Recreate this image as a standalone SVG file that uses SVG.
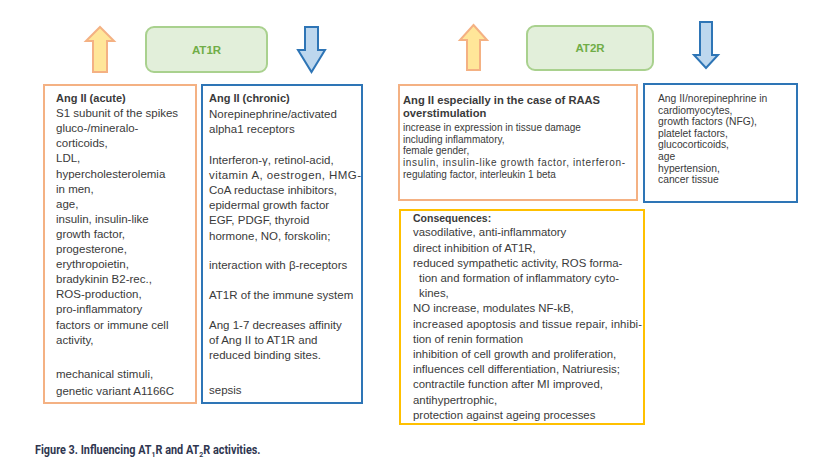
<svg xmlns="http://www.w3.org/2000/svg" width="839" height="470" viewBox="0 0 839 470">
<style>
.t{font-family:"Liberation Sans",Arial,sans-serif;font-size:11.5px;fill:#3a3a3a}
.b{font-weight:bold}
.s{font-size:10px}
.s2{font-size:10.3px}
.y{font-size:11.4px}
.box{fill:#fff;stroke-width:2}
.or{stroke:#F4B183}
.bl{stroke:#2E75B6}
.ye{stroke:#FFC000}
.rec{fill:#E2EFDA;stroke:#A9D18E;stroke-width:2}
.rl{font-family:"Liberation Sans",Arial,sans-serif;font-size:11.5px;font-weight:bold;fill:#70AD47;text-anchor:middle}
.up{fill:#FFE699;stroke:#F4B183;stroke-width:2;stroke-linejoin:miter}
.dn{fill:#BDD7EE;stroke:#2E75B6;stroke-width:2;stroke-linejoin:miter}
</style>
<rect width="839" height="470" fill="#fff"/>

<g id="at1r">
<rect class="rec" x="146" y="27" width="121" height="45" rx="8"/>
<text class="rl" x="206.5" y="54">AT1R</text>
</g>
<g id="at2r">
<rect class="rec" x="527" y="26" width="126" height="44" rx="8"/>
<text class="rl" x="590" y="52">AT2R</text>
</g>

<g id="arrows">
<polygon class="up" points="100,27 114,41 107,41 107,72 93,72 93,41 86,41"/>
<polygon class="dn" points="305,27 318,27 318,50 325,50 311.5,72 298,50 305,50"/>
<polygon class="up" points="473.5,25 487,40 480,40 480,70 467,70 467,40 460,40"/>
<polygon class="dn" points="700,22 712,22 712,55 718,55 706,68 694,55 700,55"/>
</g>

<g id="at1r-up">
<rect class="box or" x="44" y="85" width="152" height="318"/>
<text class="t"><tspan class="b" font-size="11" x="56" y="102">Ang II (acute)</tspan>
<tspan x="56" y="117.1">S1 subunit of the spikes</tspan>
<tspan x="56" y="132.2">gluco-/mineralo-</tspan>
<tspan x="56" y="147.3">corticoids,</tspan>
<tspan x="56" y="162.4">LDL,</tspan>
<tspan x="56" y="177.5">hypercholesterolemia</tspan>
<tspan x="56" y="192.6">in men,</tspan>
<tspan x="56" y="207.7">age,</tspan>
<tspan x="56" y="222.8">insulin, insulin-like</tspan>
<tspan x="56" y="237.9">growth factor,</tspan>
<tspan x="56" y="253">progesterone,</tspan>
<tspan x="56" y="268.1">erythropoietin,</tspan>
<tspan x="56" y="283.2">bradykinin B2-rec.,</tspan>
<tspan x="56" y="298.3">ROS-production,</tspan>
<tspan x="56" y="313.4">pro-inflammatory</tspan>
<tspan x="56" y="328.5">factors or immune cell</tspan>
<tspan x="56" y="343.6">activity,</tspan>
<tspan x="56" y="378">mechanical stimuli,</tspan>
<tspan x="56" y="394.5">genetic variant A1166C</tspan></text>
</g>

<g id="at1r-down">
<rect class="box bl" x="202" y="85" width="160" height="318"/>
<text class="t"><tspan class="b" font-size="11" x="209" y="102">Ang II (chronic)</tspan>
<tspan x="209" y="117.5">Norepinephrine/activated</tspan>
<tspan x="209" y="133">alpha1 receptors</tspan>
<tspan x="209" y="163.5">Interferon-γ,  retinol-acid,</tspan>
<tspan x="209" y="178.7" textLength="152" lengthAdjust="spacing">vitamin A, oestrogen, HMG-</tspan>
<tspan x="209" y="193.9">CoA reductase inhibitors,</tspan>
<tspan x="209" y="209.1">epidermal growth factor</tspan>
<tspan x="209" y="224.3">EGF, PDGF, thyroid</tspan>
<tspan x="209" y="239.5">hormone, NO, forskolin;</tspan>
<tspan x="209" y="269">interaction with β-receptors</tspan>
<tspan x="209" y="299">AT1R of the immune system</tspan>
<tspan x="209" y="329">Ang 1-7 decreases affinity</tspan>
<tspan x="209" y="344">of Ang II to AT1R and</tspan>
<tspan x="209" y="359">reduced binding sites.</tspan>
<tspan x="209" y="394">sepsis</tspan></text>
</g>

<g id="at2r-up">
<rect class="box or" x="399" y="85" width="238" height="115"/>
<text class="t"><tspan class="b" font-size="11.2" x="403" y="104">Ang II especially in the case of RAAS</tspan>
<tspan class="b" font-size="11.2" x="403" y="117">overstimulation</tspan>
<tspan class="s" x="403" y="130.7">increase in expression in tissue damage</tspan>
<tspan class="s" x="403" y="142.5">including inflammatory,</tspan>
<tspan class="s" x="403" y="154.2">female gender,</tspan>
<tspan class="s" x="403" y="166" textLength="222" lengthAdjust="spacing">insulin, insulin-like growth factor, interferon-</tspan>
<tspan class="s" x="403" y="177.7">regulating factor, interleukin 1 beta</tspan></text>
</g>

<g id="at2r-down">
<rect class="box bl" x="644" y="84" width="153" height="118"/>
<text class="t s2"><tspan x="658" y="102">Ang II/norepinephrine in</tspan>
<tspan x="658" y="113.6">cardiomyocytes,</tspan>
<tspan x="658" y="125.2">growth factors (NFG),</tspan>
<tspan x="658" y="136.8">platelet factors,</tspan>
<tspan x="658" y="148.4">glucocorticoids,</tspan>
<tspan x="658" y="160">age</tspan>
<tspan x="658" y="171.6">hypertension,</tspan>
<tspan x="658" y="183.2">cancer tissue</tspan></text>
</g>

<g id="consequences">
<rect class="box ye" x="400" y="210" width="244" height="214"/>
<text class="t y"><tspan class="b" font-size="10.5" x="413" y="221.5">Consequences:</tspan>
<tspan x="413" y="236.4">vasodilative, anti-inflammatory</tspan>
<tspan x="413" y="251.6">direct inhibition of AT1R,</tspan>
<tspan x="413" y="266.8">reduced sympathetic activity, ROS  forma-</tspan>
<tspan x="419" y="282">tion and formation of inflammatory cyto-</tspan>
<tspan x="419" y="297.2">kines,</tspan>
<tspan x="413" y="312.4">NO increase, modulates NF-kB,</tspan>
<tspan x="413" y="327.6" textLength="229" lengthAdjust="spacing">increased apoptosis and tissue repair, inhibi-</tspan>
<tspan x="413" y="342.8">tion of renin formation</tspan>
<tspan x="413" y="358">inhibition of cell growth and proliferation,</tspan>
<tspan x="413" y="373.2">influences cell differentiation,  Natriuresis;</tspan>
<tspan x="413" y="388.4">contractile function after MI improved,</tspan>
<tspan x="413" y="403.6">antihypertrophic,</tspan>
<tspan x="413" y="418.6">protection against ageing processes</tspan></text>
</g>

<g id="caption">
<text transform="translate(35,454) scale(0.87,1)" font-family="Roboto,'Liberation Sans',sans-serif" font-size="12.5" font-weight="bold" fill="#2f3650">Figure 3. Influencing AT<tspan font-size="8" baseline-shift="-3">1</tspan>R and AT<tspan font-size="8" baseline-shift="-3">2</tspan>R activities.</text>
</g>
</svg>
